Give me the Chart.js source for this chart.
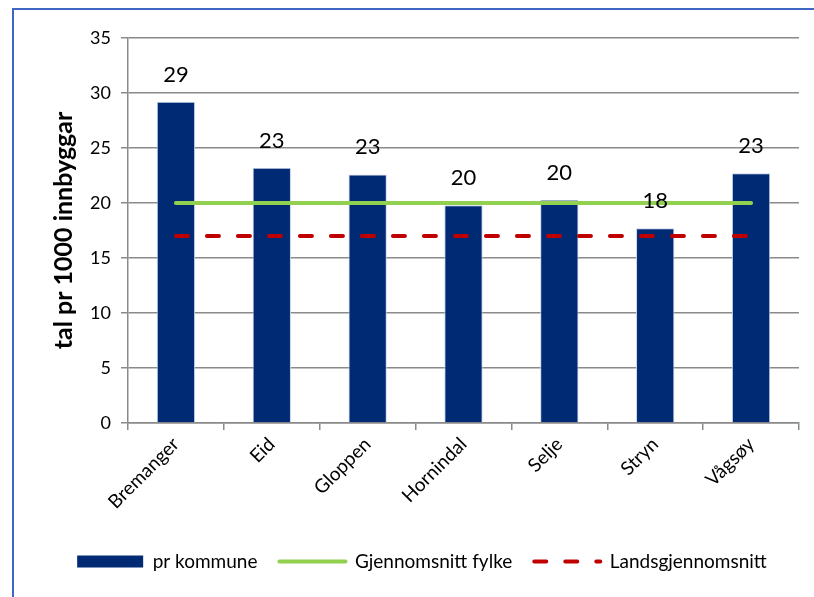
<!DOCTYPE html>
<html>
<head>
<meta charset="utf-8">
<script src="https://cdn.jsdelivr.net/npm/chart.js@4/dist/chart.umd.min.js"></script>
<style>
  html, body { margin: 0; padding: 0; background: #fff; overflow: hidden; }
  .ramme {
    position: absolute; left: 12px; top: 8px;
    width: 900px; height: 700px;
    border: 2px solid #3d66c5;
  }
  .boks { position: absolute; left: 0; top: 0; width: 814px; height: 597px; }
</style>
</head>
<body>
<div class="ramme"></div>
<div class="boks"><canvas id="myBarChart"></canvas></div>
<script>
var kommunar = ['Bremanger', 'Eid', 'Gloppen', 'Hornindal', 'Selje', 'Stryn', 'Vågsøy'];
var prKommune = [29.2, 23.2, 22.6, 19.8, 20.3, 17.7, 22.7];
var snittFylke = [20, 20, 20, 20, 20, 20, 20];
var landsSnitt = [17, 17, 17, 17, 17, 17, 17];
var yMin = 0;
var yMax = 35;
var ySteg = 5;

var font = 'Lato, "Liberation Sans", sans-serif';
var farge = {
  stolpe: '#012a74',
  fylke: '#92d050',
  land: '#c00000',
  rutenett: '#8a8a8a'
};
var strek = [12, 19];

// skriv verdien (avrunda) over kvar stolpe
var verdiEtikettar = {
  id: 'verdiEtikettar',
  afterDatasetsDraw: function (chart) {
    var ctx = chart.ctx;
    var meta = chart.getDatasetMeta(0);
    ctx.save();
    ctx.font = '22px ' + font;
    ctx.fillStyle = '#000';
    ctx.textAlign = 'center';
    ctx.textBaseline = 'middle';
    for (var i = 0; i < meta.data.length; i++) {
      var bar = meta.data[i];
      ctx.fillText(Math.round(prKommune[i]), bar.x, bar.y - 27);
    }
    ctx.restore();
  }
};

// eigne forklaringar: rektangel for stolpane, strek for linjene
function lagForklaring(chart) {
  var ds = chart.data.datasets;
  return [{
    text: ds[0].label, datasetIndex: 0, hidden: false,
    pointStyle: 'rect', fillStyle: farge.stolpe, strokeStyle: farge.stolpe, lineWidth: 0
  }, {
    text: ds[1].label, datasetIndex: 1, hidden: false,
    pointStyle: 'line', fillStyle: farge.fylke, strokeStyle: farge.fylke,
    lineWidth: 4, lineCap: 'round'
  }, {
    text: ds[2].label, datasetIndex: 2, hidden: false,
    pointStyle: 'line', fillStyle: farge.land, strokeStyle: farge.land,
    lineWidth: 4, lineCap: 'round', lineDash: strek
  }];
}

function getBarChart() {
  var myBarChart = new Chart(document.getElementById('myBarChart'), {
    type: 'bar',
    data: {
      labels: kommunar,
      datasets: [{
        label: 'pr kommune',
        data: prKommune,
        backgroundColor: farge.stolpe,
        borderColor: '#c9d3e6',
        borderWidth: 1,
        barPercentage: 0.4,
        categoryPercentage: 1,
        order: 3
      }, {
        type: 'line',
        label: 'Gjennomsnitt fylke',
        data: snittFylke,
        borderColor: farge.fylke,
        backgroundColor: farge.fylke,
        borderWidth: 4,
        borderCapStyle: 'round',
        pointRadius: 0,
        order: 2
      }, {
        type: 'line',
        label: 'Landsgjennomsnitt',
        data: landsSnitt,
        borderColor: farge.land,
        backgroundColor: farge.land,
        borderWidth: 4,
        borderDash: strek,
        borderCapStyle: 'round',
        pointRadius: 0,
        order: 1
      }]
    },
    options: {
      responsive: false,
      animation: false,
      layout: { padding: { left: 45, right: 15, top: 38, bottom: 16 } },
      plugins: {
        tooltip: { enabled: false },
        legend: {
          position: 'bottom',
          labels: {
            usePointStyle: true,
            pointStyleWidth: 66,
            boxHeight: 12,
            padding: 22,
            color: '#000',
            font: { family: font, size: 19 },
            generateLabels: lagForklaring
          }
        }
      },
      scales: {
        x: {
          afterFit: function (scale) { scale.height = 107; },
          grid: {
            display: true,
            offset: true,
            drawOnChartArea: false,
            tickLength: 7,
            color: farge.rutenett,
            lineWidth: 1.5
          },
          border: { color: farge.rutenett, width: 1.5 },
          ticks: {
            minRotation: 45,
            maxRotation: 45,
            color: '#000',
            font: { family: font, size: 19 }
          }
        },
        y: {
          min: yMin,
          max: yMax,
          afterFit: function (scale) { scale.width = 83; },
          title: {
            display: true,
            text: 'tal pr 1000 innbyggar',
            color: '#000',
            font: { family: font, size: 25, weight: 'bold' },
            padding: { top: 4, bottom: 0 }
          },
          grid: { color: farge.rutenett, lineWidth: 1.5, tickLength: 7 },
          border: { color: farge.rutenett, width: 1.5 },
          ticks: {
            stepSize: ySteg,
            padding: 10,
            color: '#000',
            font: { family: font, size: 18 }
          }
        }
      }
    },
    plugins: [verdiEtikettar]
  });
}

var c = document.getElementById('myBarChart');
c.width = 814;
c.height = 597;
getBarChart();
</script>
</body>
</html>
